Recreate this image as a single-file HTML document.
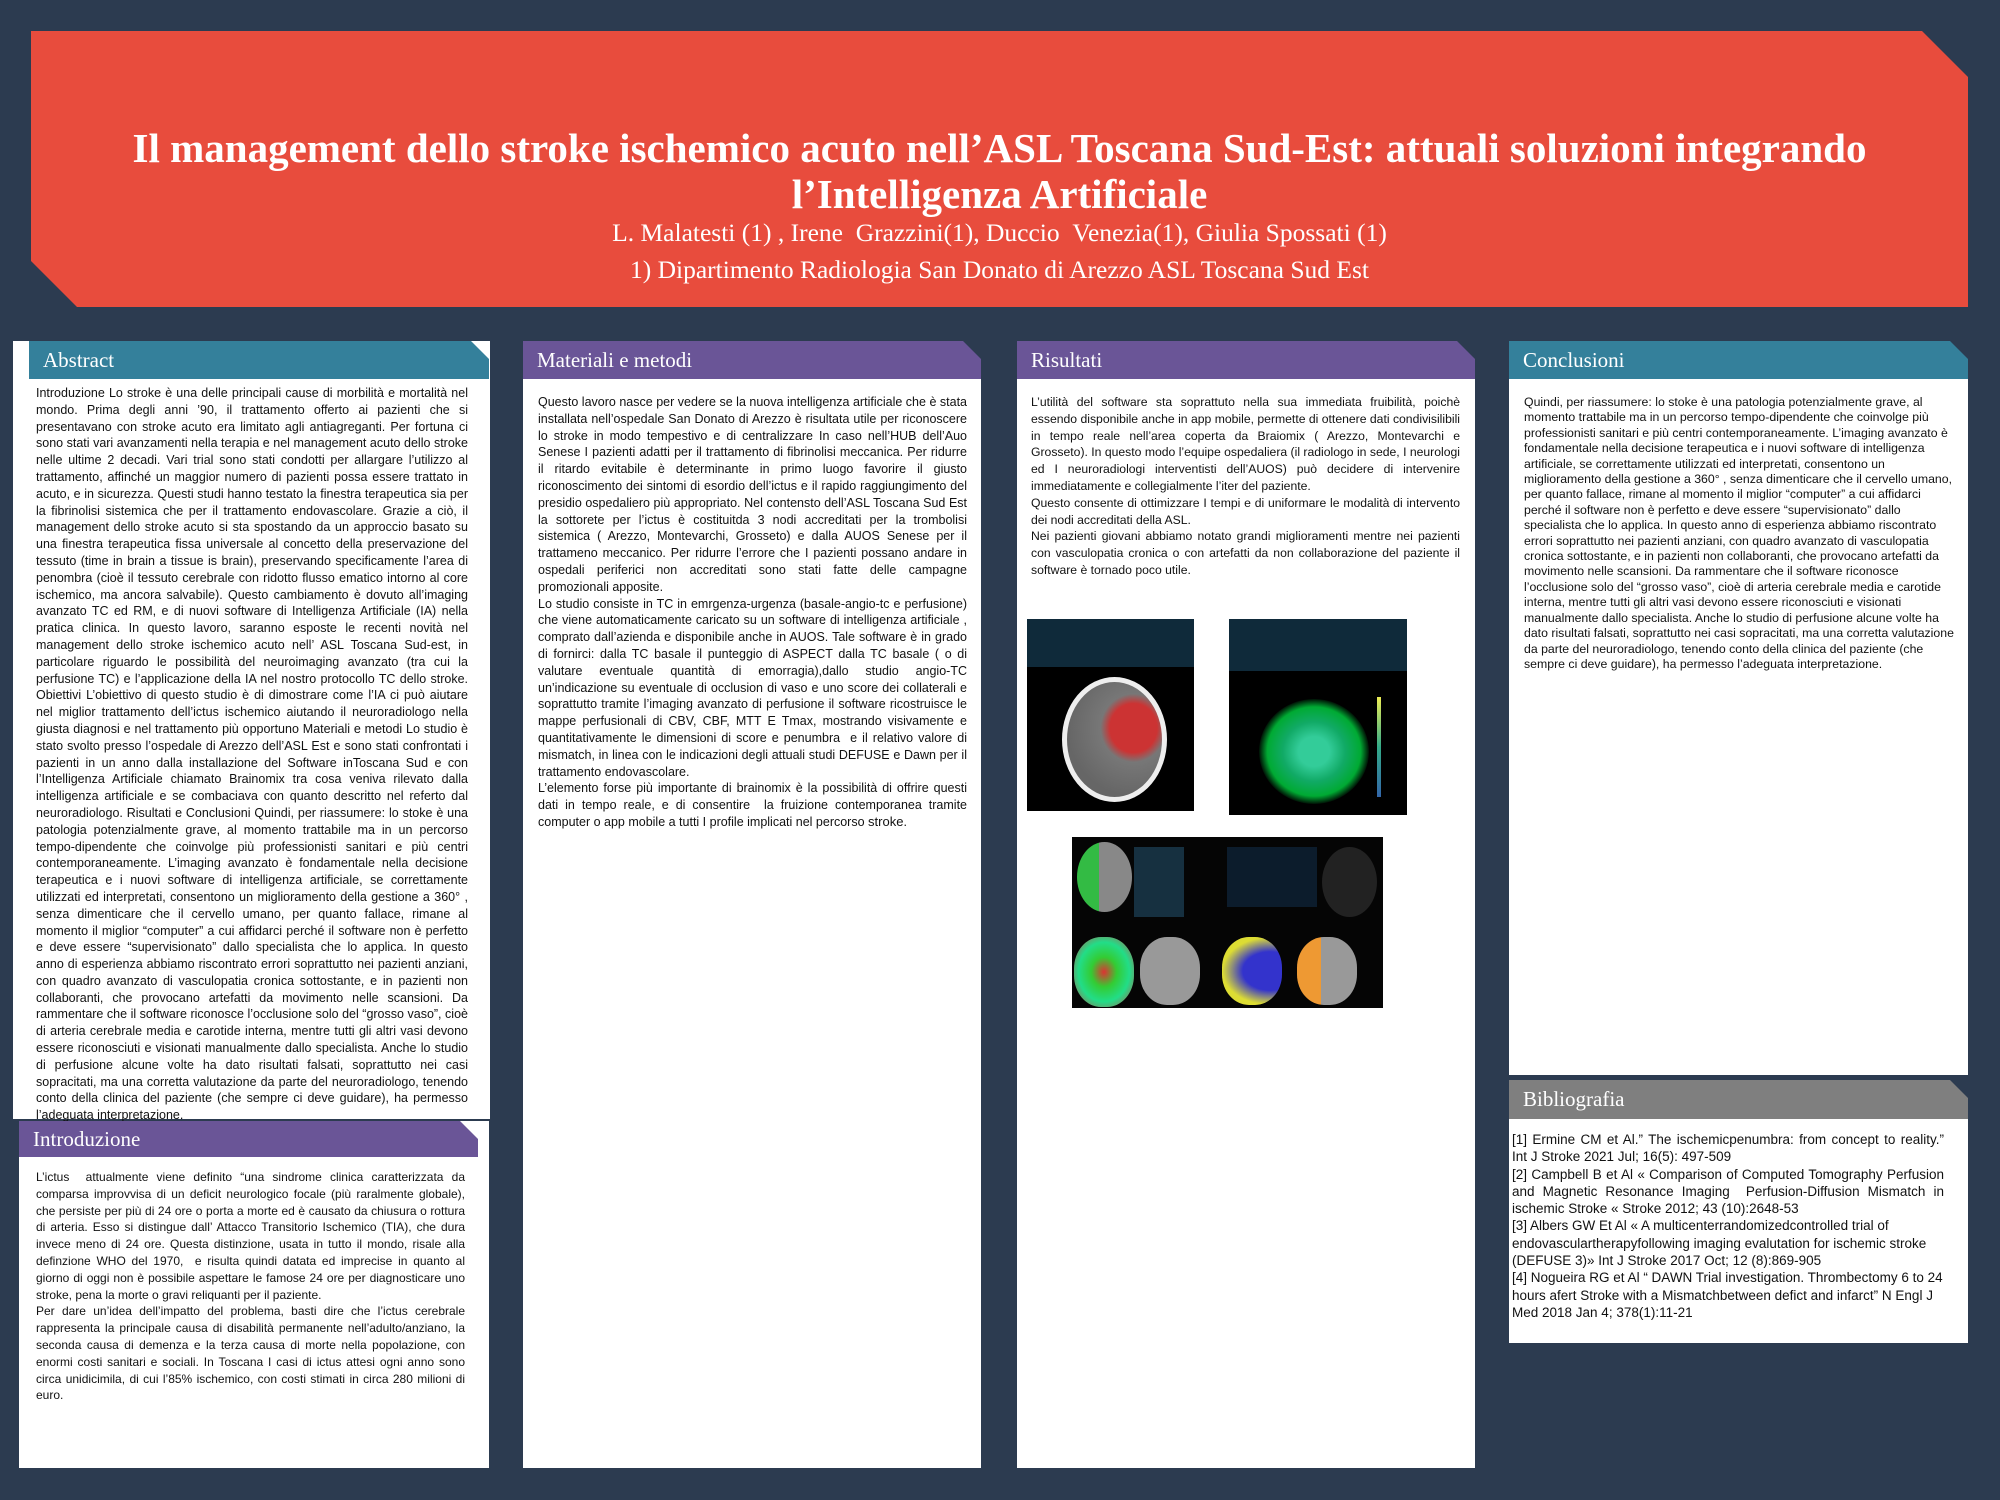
<!DOCTYPE html>
<html><head><meta charset="utf-8">
<style>
*{margin:0;padding:0;box-sizing:border-box}
body{width:2000px;height:1500px;background:#2c3b50;position:relative;overflow:hidden;font-family:"Liberation Sans",sans-serif;}
.hdr{position:absolute;left:31px;top:31px;width:1937px;height:276px;background:#e84c3d;clip-path:polygon(0 0,1891px 0,100% 46px,100% 100%,46px 100%,0 230px);color:#fff;text-align:center;font-family:"Liberation Serif",serif;}
.hdr h1{position:absolute;left:0;right:0;top:94px;font-size:41px;line-height:46px;font-weight:bold;}
.hdr .a{position:absolute;left:0;right:0;top:183px;font-size:25.5px;line-height:37px;}
.panel{position:absolute;background:#fff;}
.ph{position:absolute;color:#fff;font-family:"Liberation Serif",serif;font-size:21px;line-height:38px;padding-left:14px;clip-path:polygon(0 0,calc(100% - 18px) 0,100% 18px,100% 100%,0 100%);}
.txt{position:absolute;font-size:12.5px;line-height:16.8px;color:#111;text-align:justify;}
.teal{background:#34809b}.purp{background:#6a5597}.gray{background:#7f7f7f}
.img{position:absolute;background:#0b0f14;overflow:hidden}
</style></head><body>
<div class="hdr">
<h1>Il management dello stroke ischemico acuto nell’ASL Toscana Sud-Est: attuali soluzioni integrando<br>l’Intelligenza Artificiale</h1>
<div class="a">L. Malatesti (1) , Irene &nbsp;Grazzini(1), Duccio &nbsp;Venezia(1), Giulia Spossati (1)<br>1) Dipartimento Radiologia San Donato di Arezzo ASL Toscana Sud Est</div>
</div>

<!-- Abstract -->
<div class="panel" style="left:13px;top:341px;width:477px;height:778px"></div>
<div class="ph teal" style="left:29px;top:341px;width:460px;height:38px">Abstract</div>
<div class="txt" style="left:36px;top:385px;width:432px">Introduzione Lo stroke è una delle principali cause di morbilità e mortalità nel mondo. Prima degli anni ’90, il trattamento offerto ai pazienti che si presentavano con stroke acuto era limitato agli antiagreganti. Per fortuna ci sono stati vari avanzamenti nella terapia e nel management acuto dello stroke nelle ultime 2 decadi. Vari trial sono stati condotti per allargare l’utilizzo al trattamento, affinché un maggior numero di pazienti possa essere trattato in acuto, e in sicurezza. Questi studi hanno testato la finestra terapeutica sia per la fibrinolisi sistemica che per il trattamento endovascolare. Grazie a ciò, il management dello stroke acuto si sta spostando da un approccio basato su una finestra terapeutica fissa universale al concetto della preservazione del tessuto (time in brain a tissue is brain), preservando specificamente l’area di penombra (cioè il tessuto cerebrale con ridotto flusso ematico intorno al core ischemico, ma ancora salvabile). Questo cambiamento è dovuto all’imaging avanzato TC ed RM, e di nuovi software di Intelligenza Artificiale (IA) nella pratica clinica. In questo lavoro, saranno esposte le recenti novità nel management dello stroke ischemico acuto nell’ ASL Toscana Sud-est, in particolare riguardo le possibilità del neuroimaging avanzato (tra cui la perfusione TC) e l’applicazione della IA nel nostro protocollo TC dello stroke. Obiettivi L’obiettivo di questo studio è di dimostrare come l’IA ci può aiutare nel miglior trattamento dell’ictus ischemico aiutando il neuroradiologo nella giusta diagnosi e nel trattamento più opportuno Materiali e metodi Lo studio è stato svolto presso l’ospedale di Arezzo dell’ASL Est e sono stati confrontati i pazienti in un anno dalla installazione del Software inToscana Sud e con l’Intelligenza Artificiale chiamato Brainomix tra cosa veniva rilevato dalla intelligenza artificiale e se combaciava con quanto descritto nel referto dal neuroradiologo. Risultati e Conclusioni Quindi, per riassumere: lo stoke è una patologia potenzialmente grave, al momento trattabile ma in un percorso tempo-dipendente che coinvolge più professionisti sanitari e più centri contemporaneamente. L’imaging avanzato è fondamentale nella decisione terapeutica e i nuovi software di intelligenza artificiale, se correttamente utilizzati ed interpretati, consentono un miglioramento della gestione a 360° , senza dimenticare che il cervello umano, per quanto fallace, rimane al momento il miglior “computer” a cui affidarci perché il software non è perfetto e deve essere “supervisionato” dallo specialista che lo applica. In questo anno di esperienza abbiamo riscontrato errori soprattutto nei pazienti anziani, con quadro avanzato di vasculopatia cronica sottostante, e in pazienti non collaboranti, che provocano artefatti da movimento nelle scansioni. Da rammentare che il software riconosce l’occlusione solo del “grosso vaso”, cioè di arteria cerebrale media e carotide interna, mentre tutti gli altri vasi devono essere riconosciuti e visionati manualmente dallo specialista. Anche lo studio di perfusione alcune volte ha dato risultati falsati, soprattutto nei casi sopracitati, ma una corretta valutazione da parte del neuroradiologo, tenendo conto della clinica del paziente (che sempre ci deve guidare), ha permesso l’adeguata interpretazione.</div>

<!-- Introduzione -->
<div class="panel" style="left:19px;top:1121px;width:470px;height:347px"></div>
<div class="ph purp" style="left:19px;top:1121px;width:459px;height:36px;line-height:36px">Introduzione</div>
<div class="txt" style="left:36px;top:1169px;width:429px;font-size:12px">L’ictus &nbsp;attualmente viene definito “una sindrome clinica caratterizzata da comparsa improvvisa di un deficit neurologico focale (più raralmente globale), che persiste per più di 24 ore o porta a morte ed è causato da chiusura o rottura di arteria. Esso si distingue dall’ Attacco Transitorio Ischemico (TIA), che dura invece meno di 24 ore. Questa distinzione, usata in tutto il mondo, risale alla definzione WHO del 1970, &nbsp;e risulta quindi datata ed imprecise in quanto al giorno di oggi non è possibile aspettare le famose 24 ore per diagnosticare uno stroke, pena la morte o gravi reliquanti per il paziente.<br>Per dare un’idea dell’impatto del problema, basti dire che l’ictus cerebrale rappresenta la principale causa di disabilità permanente nell’adulto/anziano, la seconda causa di demenza e la terza causa di morte nella popolazione, con enormi costi sanitari e sociali. In Toscana I casi di ictus attesi ogni anno sono circa unidicimila, di cui l’85% ischemico, con costi stimati in circa 280 milioni di euro.</div>

<!-- Materiali -->
<div class="panel" style="left:523px;top:379px;width:458px;height:1089px"></div>
<div class="ph purp" style="left:523px;top:341px;width:458px;height:38px">Materiali e metodi</div>
<div class="txt" style="left:538px;top:394px;width:429px;font-size:12.5px">Questo lavoro nasce per vedere se la nuova intelligenza artificiale che è stata installata nell’ospedale San Donato di Arezzo è risultata utile per riconoscere lo stroke in modo tempestivo e di centralizzare In caso nell’HUB dell’Auo Senese I pazienti adatti per il trattamento di fibrinolisi meccanica. Per ridurre il ritardo evitabile è determinante in primo luogo favorire il giusto riconoscimento dei sintomi di esordio dell’ictus e il rapido raggiungimento del presidio ospedaliero più appropriato. Nel contensto dell’ASL Toscana Sud Est la sottorete per l’ictus è costituitda 3 nodi accreditati per la trombolisi sistemica ( Arezzo, Montevarchi, Grosseto) e dalla AUOS Senese per il trattameno meccanico. Per ridurre l’errore che I pazienti possano andare in ospedali periferici non accreditati sono stati fatte delle campagne promozionali apposite.<br>Lo studio consiste in TC in emrgenza-urgenza (basale-angio-tc e perfusione) che viene automaticamente caricato su un software di intelligenza artificiale , comprato dall’azienda e disponibile anche in AUOS. Tale software è in grado di fornirci: dalla TC basale il punteggio di ASPECT dalla TC basale ( o di valutare eventuale quantità di emorragia),dallo studio angio-TC un’indicazione su eventuale di occlusion di vaso e uno score dei collaterali e soprattutto tramite l’imaging avanzato di perfusione il software ricostruisce le mappe perfusionali di CBV, CBF, MTT E Tmax, mostrando visivamente e quantitativamente le dimensioni di score e penumbra &nbsp;e il relativo valore di mismatch, in linea con le indicazioni degli attuali studi DEFUSE e Dawn per il trattamento endovascolare.<br>L’elemento forse più importante di brainomix è la possibilità di offrire questi dati in tempo reale, e di consentire &nbsp;la fruizione contemporanea tramite computer o app mobile a tutti I profile implicati nel percorso <span style="font-size:13px">stroke</span>.</div>

<!-- Risultati -->
<div class="panel" style="left:1017px;top:379px;width:458px;height:1089px"></div>
<div class="ph purp" style="left:1017px;top:341px;width:458px;height:38px">Risultati</div>
<div class="txt" style="left:1031px;top:394px;width:429px;font-size:12.2px">L’utilità del software sta soprattuto nella sua immediata fruibilità, poichè essendo disponibile anche in app mobile, permette di ottenere dati condivisilibili in tempo reale nell’area coperta da Braiomix ( Arezzo, Montevarchi e Grosseto). In questo modo l’equipe ospedaliera (il radiologo in sede, I neurologi ed I neuroradiologi interventisti dell’AUOS) può decidere di intervenire immediatamente e collegialmente l’iter del paziente.<br>Questo consente di ottimizzare I tempi e di uniformare le modalità di intervento dei nodi accreditati della ASL.<br>Nei pazienti giovani abbiamo notato grandi miglioramenti mentre nei pazienti con vasculopatia cronica o con artefatti da non collaborazione del paziente il software è tornado poco utile.</div>

<div class="img" style="left:1027px;top:619px;width:167px;height:192px;background:#000">
 <div style="position:absolute;left:0;top:0;width:100%;height:48px;background:#0f2a3a"></div>
 <div style="position:absolute;left:35px;top:58px;width:105px;height:125px;border-radius:50%;background:radial-gradient(ellipse at 70% 40%,#c33 0 25%,#777 35%,#666 70%);border:5px solid #eee"></div>
</div>
<div class="img" style="left:1229px;top:619px;width:178px;height:196px;background:#000">
 <div style="position:absolute;left:0;top:0;width:100%;height:52px;background:#0f2a3a"></div>
 <div style="position:absolute;left:30px;top:80px;width:110px;height:105px;border-radius:50%;background:radial-gradient(ellipse,#3c9 0 20%,#1a6 40%,#0a3 60%,#000 72%)"></div>
 <div style="position:absolute;left:148px;top:78px;width:4px;height:100px;background:linear-gradient(#ee5,#3a8,#36a)"></div>
</div>
<div class="img" style="left:1072px;top:837px;width:311px;height:171px;background:#050505">
 <div style="position:absolute;left:5px;top:5px;width:55px;height:70px;border-radius:50%;background:linear-gradient(90deg,#3b4 40%,#888 40%)"></div>
 <div style="position:absolute;left:62px;top:10px;width:50px;height:70px;background:#163040"></div>
 <div style="position:absolute;left:155px;top:10px;width:90px;height:60px;background:#0c1c2c"></div>
 <div style="position:absolute;left:250px;top:10px;width:55px;height:70px;border-radius:50%;background:#222"></div>
 <div style="position:absolute;left:2px;top:100px;width:60px;height:70px;border-radius:45%;background:radial-gradient(#d33,#3c3 30%,#2d8 60%,#c44)"></div>
 <div style="position:absolute;left:68px;top:100px;width:60px;height:68px;border-radius:45%;background:#999"></div>
 <div style="position:absolute;left:150px;top:100px;width:60px;height:68px;border-radius:45%;background:radial-gradient(at 80% 50%,#33c 40%,#dd3 70%)"></div>
 <div style="position:absolute;left:225px;top:100px;width:60px;height:68px;border-radius:45%;background:linear-gradient(90deg,#e93 40%,#999 40%)"></div>
</div>

<!-- Conclusioni -->
<div class="panel" style="left:1509px;top:379px;width:459px;height:696px"></div>
<div class="ph teal" style="left:1509px;top:341px;width:459px;height:38px">Conclusioni</div>
<div class="txt" style="left:1524px;top:395px;width:430px;text-align:left;font-size:12.3px;line-height:15.4px">Quindi, per riassumere: lo stoke è una patologia potenzialmente grave, al momento trattabile ma in un percorso tempo-dipendente che coinvolge più professionisti sanitari e più centri contemporaneamente. L’imaging avanzato è fondamentale nella decisione terapeutica e i nuovi software di intelligenza artificiale, se correttamente utilizzati ed interpretati, consentono un miglioramento della gestione a 360° , senza dimenticare che il cervello umano, per quanto fallace, rimane al momento il miglior “computer” a cui affidarci perché il software non è perfetto e deve essere “supervisionato” dallo specialista che lo applica. In questo anno di esperienza abbiamo riscontrato errori soprattutto nei pazienti anziani, con quadro avanzato di vasculopatia cronica sottostante, e in pazienti non collaboranti, che provocano artefatti da movimento nelle scansioni. Da rammentare che il software riconosce l’occlusione solo del “grosso vaso”, cioè di arteria cerebrale media e carotide interna, mentre tutti gli altri vasi devono essere riconosciuti e visionati manualmente dallo specialista. Anche lo studio di perfusione alcune volte ha dato risultati falsati, soprattutto nei casi sopracitati, ma una corretta valutazione da parte del neuroradiologo, tenendo conto della clinica del paziente (che sempre ci deve guidare), ha permesso l’adeguata interpretazione.</div>

<!-- Bibliografia -->
<div class="panel" style="left:1509px;top:1119px;width:459px;height:224px"></div>
<div class="ph gray" style="left:1509px;top:1080px;width:459px;height:39px">Bibliografia</div>
<div class="txt" style="left:1512px;top:1131px;width:432px;font-size:13.5px;line-height:17.3px">[1] Ermine CM et Al.” The ischemicpenumbra: from concept to reality.” Int J Stroke 2021 Jul; 16(5): 497-509<br>[2] Campbell B et Al « Comparison of Computed Tomography Perfusion and Magnetic Resonance Imaging &nbsp;Perfusion-Diffusion Mismatch in ischemic Stroke « Stroke 2012; 43 (10):2648-53<br><span style="display:block;text-align:left">[3] Albers GW Et Al « A multicenterrandomizedcontrolled trial of endovasculartherapyfollowing imaging evalutation for ischemic stroke (DEFUSE 3)» Int J Stroke 2017 Oct; 12 (8):869-905<br>[4] Nogueira RG et Al “ DAWN Trial investigation. Thrombectomy 6 to 24 hours afert Stroke with a Mismatchbetween defict and infarct” N Engl J Med 2018 Jan 4; 378(1):11-21</span></div>
</body></html>
